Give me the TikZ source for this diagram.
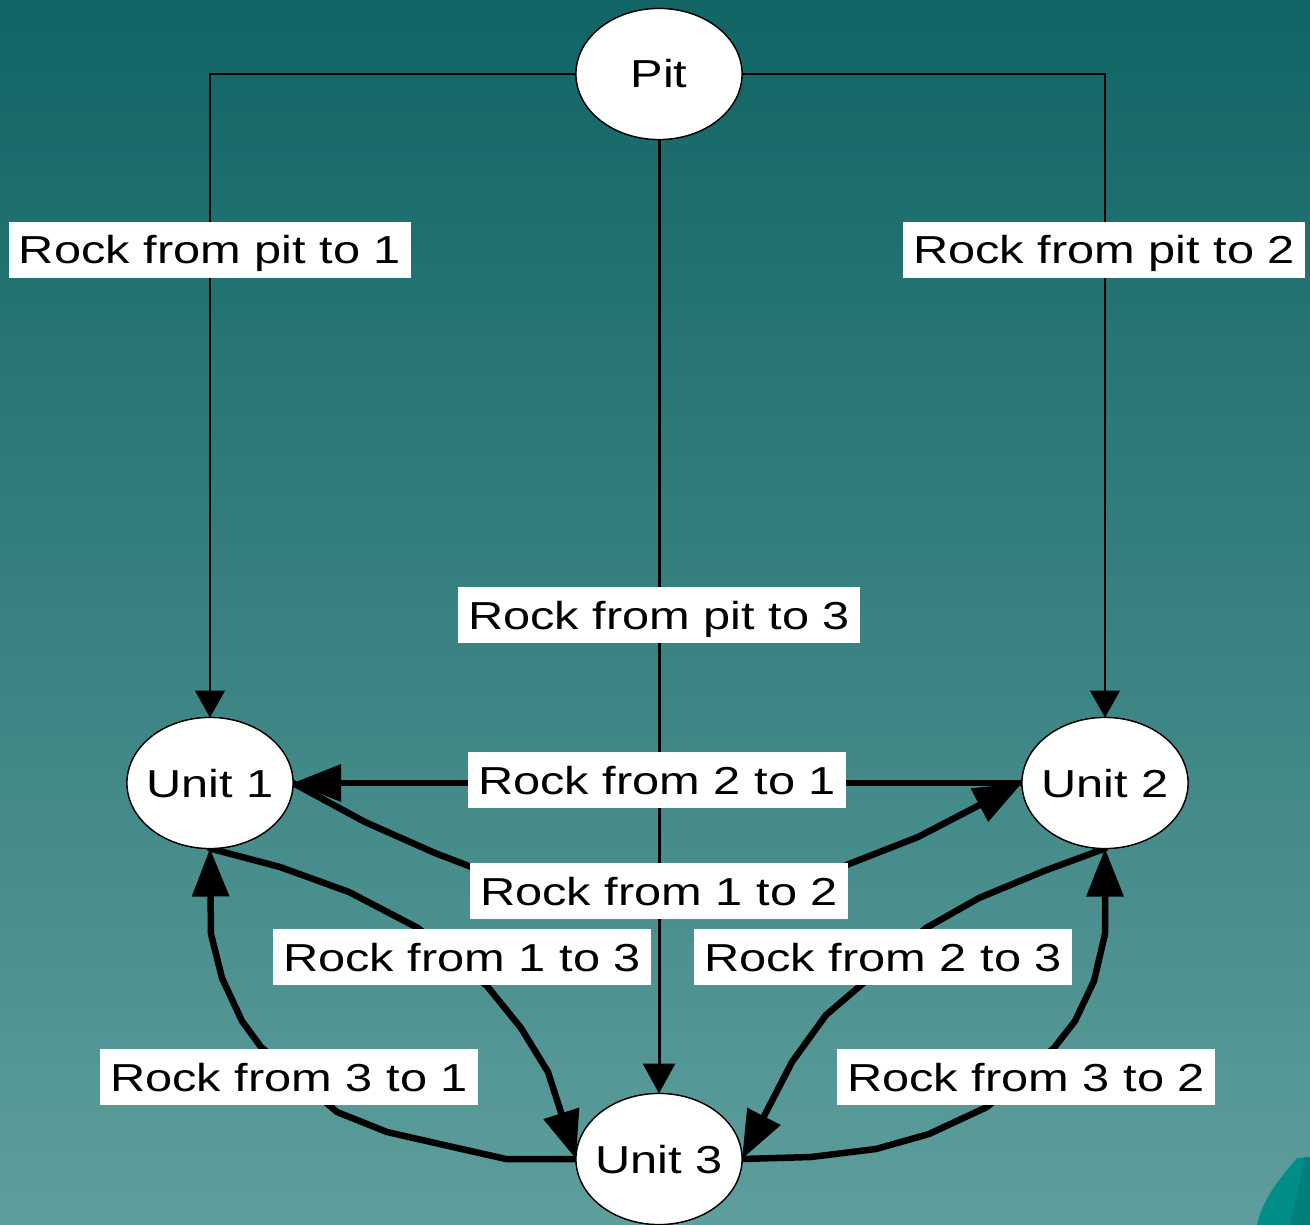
\documentclass[tikz,border=0pt]{standalone}
\usepackage{fontspec}
\setmainfont{Liberation Sans}[FakeStretch=1.25]
\usetikzlibrary{shapes.geometric,arrows.meta}
\definecolor{bgtop}{RGB}{17,101,101}
\definecolor{bgbot}{RGB}{94,158,156}
\definecolor{deco}{RGB}{0,142,137}
\definecolor{decodark}{RGB}{0,128,124}
\begin{document}
\begin{tikzpicture}[x=1pt,y=-1pt,
  txt/.style={font=\fontsize{39}{46}\selectfont},
  unit/.style={txt, ellipse, draw=black, line width=1.3pt, fill=white,
    minimum width=166pt, minimum height=131pt, inner sep=0pt, outer sep=0pt,
    text height=28pt, text depth=0pt},
  lbl/.style={txt, fill=white, inner xsep=10pt, inner ysep=0pt,
    minimum height=56pt, text height=28pt, text depth=0pt},
  thinline/.style={line width=1.3pt, -{Triangle[length=27pt,width=30pt]}},
  midline/.style={line width=3pt, -{Triangle[length=30pt,width=32pt]}},
  thickline/.style={line width=6.5pt, line join=round, line cap=round,
    -{Triangle[length=48pt,width=36pt]}}
  ]
\useasboundingbox (0,0) rectangle (1310,1225);
\shade[top color=bgtop, bottom color=bgbot] (0,0) rectangle (1310,1225);
% decoration in the corner
\fill[deco] (1257,1225) .. controls (1262,1200) and (1280,1178) .. (1297,1158)
  -- (1310,1157) -- (1310,1225) -- cycle;
\fill[decodark] (1290,1225) -- (1305,1157) -- (1310,1157) -- (1310,1225) -- cycle;

% nodes (placed first so anchors exist; redrawn on top below)
\path (659,74) node[unit] (pit) {\makebox[0pt]{Pit}}
      (210,783) node[unit] (u1) {\makebox[0pt]{Unit 1}}
      (1105,783) node[unit] (u2) {\makebox[0pt]{Unit 2}}
      (659,1159) node[unit] (u3) {\makebox[0pt]{Unit 3}};

% connectors
\draw[thinline] (pit.west) -| (u1.north);
\draw[thinline] (pit.east) -| (u2.north);
\draw[midline] (pit.south) -- (u3.north);
\draw[thickline] (u2.west) -- (u1.east);
\draw[thickline] (u1.east) -- (365,822) -- (435,853) -- (500,878) -- (820,878)
  -- (849,864) -- (918,837) -- (u2.west);
\draw[thickline] (u1.south) -- (280,867) -- (349,892) -- (418,928) -- (487,986)
  -- (521,1028) -- (548,1072) -- (u3.west);
\draw[thickline] (u3.west) -- (506,1159) -- (444,1145) -- (387,1132) -- (337,1112)
  -- (261,1047) -- (242,1021) -- (222,978) -- (211,934) -- (u1.south);
\draw[thickline] (u2.south) -- (1044,871) -- (979,898) -- (926,928) -- (860,986)
  -- (826,1015) -- (792,1062) -- (u3.east);
\draw[thickline] (u3.east) -- (811,1157) -- (876,1149) -- (929,1134) -- (987,1107)
  -- (1054,1048) -- (1075,1021) -- (1094,981) -- (1105,934) -- (u2.south);

% labels
\node[lbl] (lp1) at (210,250) {Rock from pit to 1};
\node[lbl] (lp2) at (1104,250) {Rock from pit to 2};
\node[lbl] (lp3) at (659,615) {Rock from pit to 3};
\node[lbl] (l21) at (657,780) {Rock from 2 to 1};
\node[lbl] (l12) at (659,891) {Rock from 1 to 2};
\node[lbl] (l13) at (462,957) {Rock from 1 to 3};
\node[lbl] (l23) at (883,957) {Rock from 2 to 3};
\node[lbl] (l31) at (289,1077) {Rock from 3 to 1};
\node[lbl] (l32) at (1026,1077) {Rock from 3 to 2};

% ellipses on top
\path (pit.center) node[unit] {\makebox[0pt]{Pit}}
      (u1.center) node[unit] {\makebox[0pt]{Unit 1}}
      (u2.center) node[unit] {\makebox[0pt]{Unit 2}}
      (u3.center) node[unit] {\makebox[0pt]{Unit 3}};
\end{tikzpicture}
\end{document}
